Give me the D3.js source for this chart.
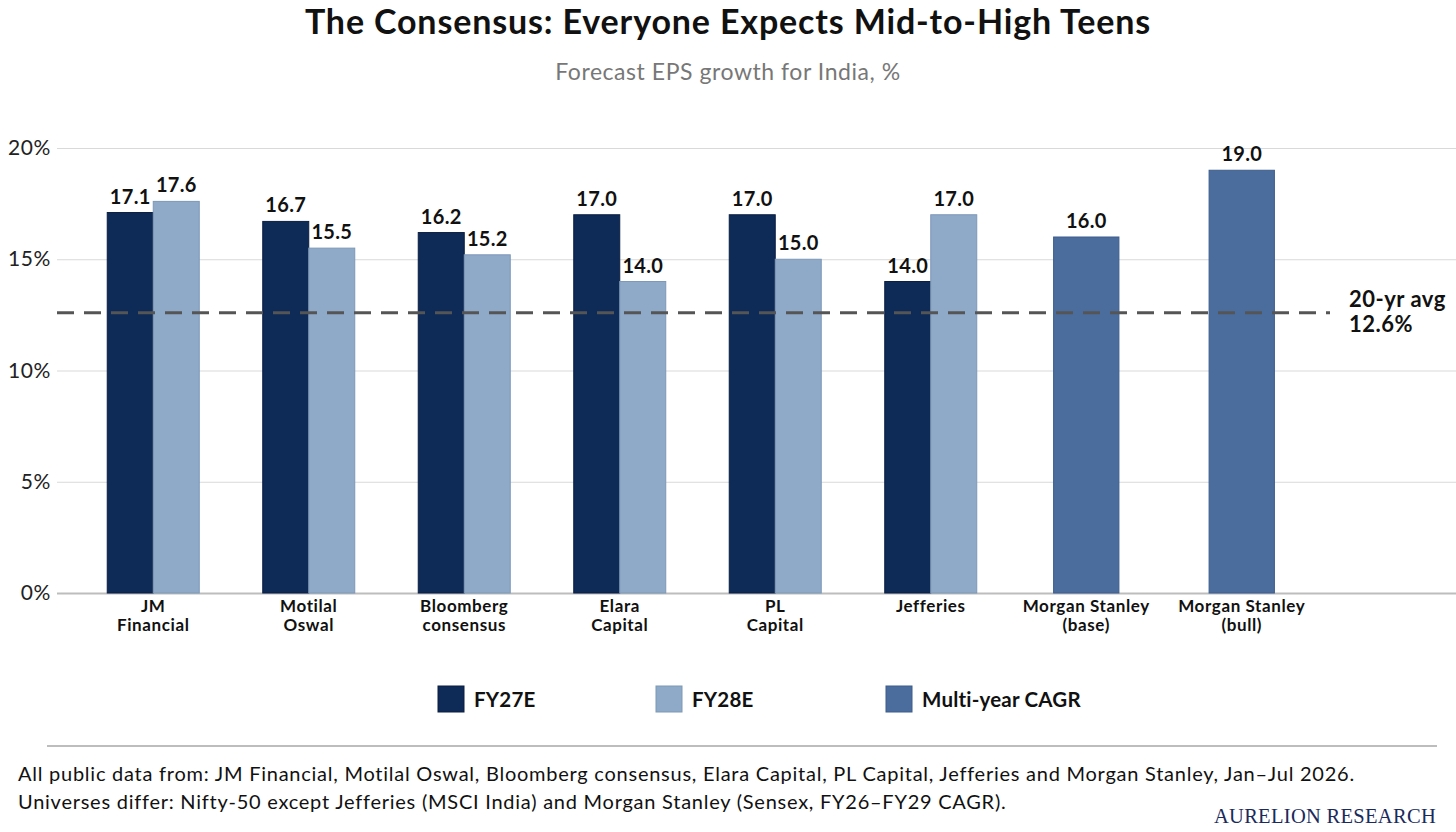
<!DOCTYPE html>
<html>
<head>
<meta charset="utf-8">
<script src="https://cdn.jsdelivr.net/npm/d3@7"></script>
<style>
  body { margin: 0; background: #fff; }
  svg { display: block; font-family: Lato, "Open Sans", sans-serif; }
</style>
</head>
<body>
<div id="chart"></div>
<script>
// chart values
var categories = [
  ["JM", "Financial"],
  ["Motilal", "Oswal"],
  ["Bloomberg", "consensus"],
  ["Elara", "Capital"],
  ["PL", "Capital"],
  ["Jefferies"],
  ["Morgan Stanley", "(base)"],
  ["Morgan Stanley", "(bull)"]
];
var fy27 = [17.1, 16.7, 16.2, 17.0, 17.0, 14.0, null, null];
var fy28 = [17.6, 15.5, 15.2, 14.0, 15.0, 17.0, null, null];
var cagr = [null, null, null, null, null, null, 16.0, 19.0];
var avg20yr = 12.6;
var yTicks = [0, 5, 10, 15, 20];
var seriesNames = ["FY27E", "FY28E", "Multi-year CAGR"];

var W = 1456, H = 832;
var color = d3.scaleOrdinal()
  .domain(seriesNames)
  .range(["#0e2a56", "#8faac8", "#4b6d9e"]);
var strokeColor = d3.scaleOrdinal()
  .domain(seriesNames)
  .range(["#0a1f42", "#7d98b8", "#3d5d8c"]);

var svg = d3.select("#chart").append("svg")
  .attr("width", W)
  .attr("height", H);

var margin = {top: 148, left: 57, right: 0, bottom: 239};

var y = d3.scaleLinear().domain([0, 20]).range([593, 148]);
var x0 = d3.scaleBand()
  .domain(d3.range(categories.length))
  .range([75.5, 1319.5])
  .padding(0);
var x1 = d3.scaleBand()
  .domain(["FY27E", "FY28E"])
  .range([0, x0.bandwidth()])
  .paddingInner(0)
  .paddingOuter(0.69);

// title
svg.append("text")
  .attr("x", W / 2).attr("y", 34)
  .attr("text-anchor", "middle")
  .style("font-size", "34px").style("font-weight", 700).style("fill", "#111")
  .style("letter-spacing", "0.85px")
  .text("The Consensus: Everyone Expects Mid-to-High Teens");
svg.append("text")
  .attr("x", W / 2).attr("y", 80)
  .attr("text-anchor", "middle")
  .style("font-size", "23px").style("fill", "#777")
  .style("letter-spacing", "0.55px")
  .text("Forecast EPS growth for India, %");

// gridlines + y axis
var yAxis = d3.axisLeft(y)
  .tickValues(yTicks)
  .tickSize(-(W - margin.left))
  .tickPadding(6)
  .tickFormat(function(d){ return d + "%"; });

var gy = svg.append("g")
  .attr("transform", "translate(" + margin.left + ",0)")
  .call(yAxis);
gy.select(".domain").remove();
gy.selectAll(".tick line")
  .attr("stroke", function(d){ return d === 0 ? "#bdbdbd" : "#d9d9d9"; })
  .attr("stroke-width", function(d){ return d === 0 ? 2 : 1.2; });
gy.selectAll(".tick text")
  .style("font-size", "21px").style("fill", "#222")
  .style("letter-spacing", "0.6px")
  .style("font-family", "Lato, sans-serif");

// bars
var rows = categories.map(function(c, i){
  return {i: i, vals: [
    {s: "FY27E", v: fy27[i]},
    {s: "FY28E", v: fy28[i]}
  ].filter(function(d){ return d.v !== null; }), cagr: cagr[i]};
});

var groups = svg.selectAll(".cat")
  .data(rows)
  .enter().append("g")
  .attr("class", "cat")
  .attr("transform", function(d){ return "translate(" + x0(d.i) + ",0)"; });

groups.selectAll("rect.pair")
  .data(function(d){ return d.vals; })
  .enter().append("rect")
  .attr("class", "pair")
  .attr("x", function(d){ return x1(d.s); })
  .attr("width", x1.bandwidth())
  .attr("y", function(d){ return y(d.v); })
  .attr("height", function(d){ return y(0) - y(d.v); })
  .style("fill", function(d){ return color(d.s); })
  .style("stroke", function(d){ return strokeColor(d.s); })
  .style("stroke-width", 1);

groups.selectAll("text.pairval")
  .data(function(d){ return d.vals; })
  .enter().append("text")
  .attr("class", "pairval")
  .attr("x", function(d){ return x1(d.s) + x1.bandwidth() / 2; })
  .attr("y", function(d){ return y(d.v) - 9; })
  .attr("text-anchor", "middle")
  .style("font-size", "20px").style("font-weight", 700).style("fill", "#111")
  .style("letter-spacing", "0.3px")
  .text(function(d){ return d.v.toFixed(1); });

var singleW = x0.bandwidth() * 0.42;
var single = groups.filter(function(d){ return d.cagr !== null; });
single.append("rect")
  .attr("x", (x0.bandwidth() - singleW) / 2)
  .attr("width", singleW)
  .attr("y", function(d){ return y(d.cagr); })
  .attr("height", function(d){ return y(0) - y(d.cagr); })
  .style("fill", color("Multi-year CAGR"))
  .style("stroke", strokeColor("Multi-year CAGR"))
  .style("stroke-width", 1);
single.append("text")
  .attr("x", x0.bandwidth() / 2)
  .attr("y", function(d){ return y(d.cagr) - 9; })
  .attr("text-anchor", "middle")
  .style("font-size", "20px").style("font-weight", 700).style("fill", "#111")
  .style("letter-spacing", "0.3px")
  .text(function(d){ return d.cagr.toFixed(1); });

// category labels
groups.append("text")
  .attr("text-anchor", "middle")
  .style("font-size", "17px").style("font-weight", 700).style("fill", "#111")
  .style("letter-spacing", "0.6px")
  .each(function(d){
    var t = d3.select(this);
    categories[d.i].forEach(function(line, k){
      t.append("tspan")
        .attr("x", x0.bandwidth() / 2)
        .attr("y", 612 + k * 19)
        .text(line);
    });
  });

// 20-yr average line
svg.append("line")
  .attr("x1", margin.left).attr("x2", 1330)
  .attr("y1", y(avg20yr)).attr("y2", y(avg20yr))
  .attr("stroke", "#555")
  .attr("stroke-width", 3)
  .attr("stroke-dasharray", "17,10");
svg.append("text")
  .attr("x", 1349).attr("y", y(avg20yr) - 6)
  .style("font-size", "22px").style("font-weight", 700).style("fill", "#111")
  .style("letter-spacing", "0.5px")
  .text("20-yr avg");
svg.append("text")
  .attr("x", 1349).attr("y", y(avg20yr) + 19)
  .style("font-size", "22px").style("font-weight", 700).style("fill", "#111")
  .style("letter-spacing", "0.5px")
  .text(avg20yr + "%");

// legend
var legendX = [438, 656, 886];
var legend = svg.selectAll(".leg")
  .data(seriesNames)
  .enter().append("g")
  .attr("class", "leg")
  .attr("transform", function(d, i){ return "translate(" + legendX[i] + ",686)"; });
legend.append("rect")
  .attr("width", 26).attr("height", 26)
  .style("fill", function(d){ return color(d); })
  .style("stroke", function(d){ return strokeColor(d); });
legend.append("text")
  .attr("x", 36).attr("y", 20.5)
  .style("font-size", "20.5px").style("font-weight", 700).style("fill", "#111")
  .style("letter-spacing", "0.2px")
  .text(function(d){ return d; });

// footer
svg.append("line")
  .attr("x1", 47).attr("x2", 1437)
  .attr("y1", 746).attr("y2", 746)
  .attr("stroke", "#bdbdbd").attr("stroke-width", 2);
svg.append("text")
  .attr("x", 18).attr("y", 781)
  .style("font-size", "20px").style("fill", "#111")
  .style("letter-spacing", "0.75px")
  .text("All public data from: JM Financial, Motilal Oswal, Bloomberg consensus, Elara Capital, PL Capital, Jefferies and Morgan Stanley, Jan\u2013Jul 2026.");
svg.append("text")
  .attr("x", 18).attr("y", 809)
  .style("font-size", "20px").style("fill", "#111")
  .style("letter-spacing", "0.75px")
  .text("Universes differ: Nifty-50 except Jefferies (MSCI India) and Morgan Stanley (Sensex, FY26\u2013FY29 CAGR).");
svg.append("text")
  .attr("x", 1436).attr("y", 823)
  .attr("text-anchor", "end")
  .style("font-family", "'Liberation Serif', 'DejaVu Serif', serif")
  .style("font-size", "20.5px").style("fill", "#1b2a5c")
  .style("letter-spacing", "0.3px")
  .text("AURELION RESEARCH");
</script>
</body>
</html>
